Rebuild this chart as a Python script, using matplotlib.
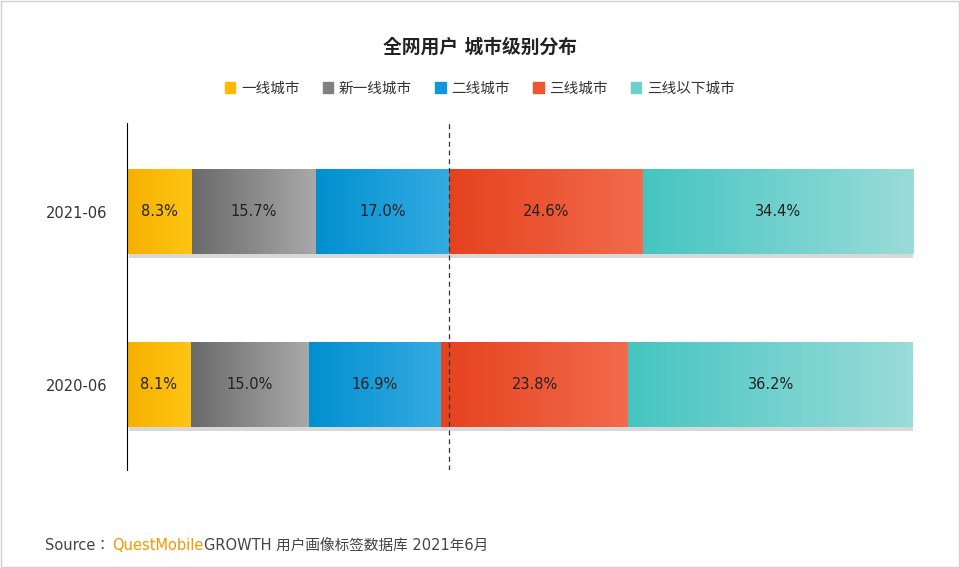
import glob, os
import numpy as np
import matplotlib
matplotlib.use("Agg")
import matplotlib.pyplot as plt
from matplotlib import font_manager as fm
from matplotlib.colors import LinearSegmentedColormap
from matplotlib.patches import Rectangle

paths = [p for p in fm.findSystemFonts() if 'cjk' in p.lower()]
paths += glob.glob('/usr/share/fonts/**/*CJK*', recursive=True)
for p in paths:
    try:
        fm.fontManager.addfont(p)
    except Exception:
        pass
cjk = sorted({f.name for f in fm.fontManager.ttflist if 'CJK' in f.name})
pref = [n for n in cjk if n.endswith('SC')] or cjk
fam = ['DejaVu Sans'] + pref[:1]
plt.rcParams['font.family'] = fam

categories = ['2021-06', '2020-06']
series = ['一线城市', '新一线城市', '二线城市', '三线城市', '三线以下城市']
values = {
    '一线城市': [8.3, 8.1],
    '新一线城市': [15.7, 15.0],
    '二线城市': [17.0, 16.9],
    '三线城市': [24.6, 23.8],
    '三线以下城市': [34.4, 36.2],
}
grads = [('#F5B000', '#FFC514'), ('#6A6A6A', '#A9A9A9'), ('#0090CF', '#35ABE2'),
         ('#E5421E', '#F26B4C'), ('#45C5C1', '#9ADCD9')]
legend_colors = ['#FFB800', '#808080', '#1296DB', '#EE5530', '#6CD0CC']

fig = plt.figure(figsize=(9.6, 5.68), dpi=100)
fig.patches.append(Rectangle((0.001, 0.001), 0.998, 0.998, transform=fig.transFigure,
                             fill=False, edgecolor='#D0D0D0', lw=1))
ax = fig.add_axes([127/960, 98/568, 786/960, 347/568])
h = 0.491
grad = np.linspace(0, 1, 256).reshape(1, -1)
for i, cat in enumerate(categories):
    left = 0
    tot = sum(values[s][i] for s in series)
    ax.add_patch(Rectangle((0.3, i - h/2 + 0.025), tot, h, color='#D8D8D8', zorder=1, lw=0))
    for s, (c1, c2) in zip(series, grads):
        v = values[s][i]
        cmap = LinearSegmentedColormap.from_list('g', [c1, c2])
        ax.imshow(grad, cmap=cmap, aspect='auto', extent=(left, left + v, i + h/2, i - h/2),
                  zorder=2, interpolation='bilinear')
        ax.text(left + v/2, i, f'{v:.1f}%', ha='center', va='center', fontsize=10.5,
                color='#222222', zorder=3)
        left += v
ax.set_xlim(0, 100)
ax.set_ylim(1.494, -0.5116)
ax.axvline(41.0, color='#333333', ls=(0, (4, 3)), lw=0.9, zorder=4)
for sp in ['top', 'right', 'bottom']:
    ax.spines[sp].set_visible(False)
ax.spines['left'].set_color('#000000')
ax.set_xticks([])
ax.set_yticks(range(len(categories)))
ax.set_yticklabels(categories, fontsize=10.5, color='#333333')
ax.tick_params(axis='y', length=0, pad=14)

fig.text(0.5, 1 - 47/568, '全网用户 城市级别分布', ha='center', va='center', fontsize=13.5,
         fontweight='bold', color='#222222')
handles = [Rectangle((0, 0), 1, 1, color=c) for c in legend_colors]
fig.legend(handles, series, loc='center', bbox_to_anchor=(0.5, 1 - 88/568), ncol=5,
           frameon=False, fontsize=10.5, handlelength=0.7, handleheight=0.7,
           handletextpad=0.4, columnspacing=1.6, labelcolor='#333333')
y = 1 - 546/568
t1 = fig.text(45/960, y, 'Source：', ha='left', va='center', fontsize=10.5, color='#444444')
t2 = fig.text(112/960, y, 'QuestMobile', ha='left', va='center', fontsize=10.5,
              color='#F39800')
fig.canvas.draw()
bb = t2.get_window_extent()
fig.text(bb.x1/960 + 1/960, y, 'GROWTH 用户画像标签数据库 2021年6月', ha='left', va='center',
         fontsize=10.5, color='#444444')
fig.savefig('out.png', dpi=100)
